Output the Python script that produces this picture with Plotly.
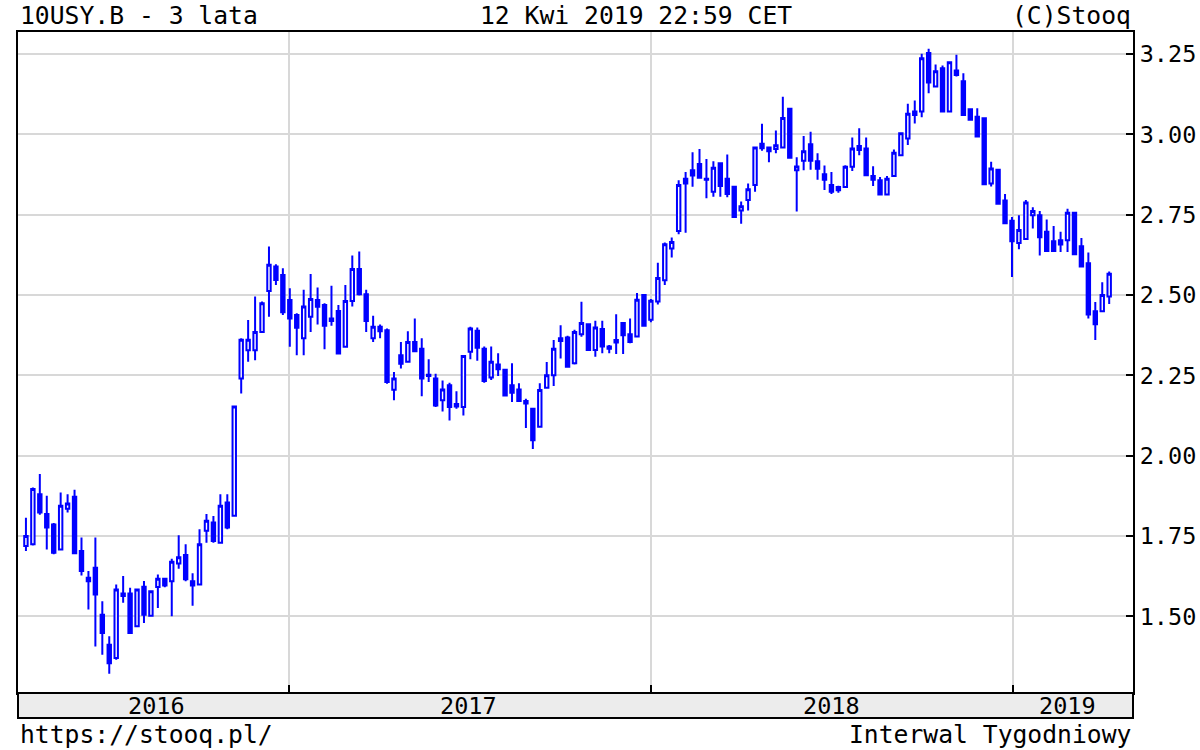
import pandas as pd
import plotly.graph_objects as go

# Weekly candles, 10USY.B (10-year US Treasury yield), weeks starting 2016-04-11
start_week = "2016-04-11"

opens = [1.719, 1.724, 1.880, 1.818, 1.786, 1.708, 1.835, 1.872, 1.703, 1.620,
         1.651, 1.505, 1.411, 1.370, 1.571, 1.571, 1.469, 1.592, 1.502, 1.591,
         1.617, 1.609, 1.664, 1.691, 1.609, 1.599, 1.766, 1.792, 1.729, 1.854,
         1.8125, 2.240, 2.328, 2.328, 2.385, 2.5125, 2.589, 2.5625, 2.484, 2.4375,
         2.365, 2.432, 2.484, 2.469, 2.427, 2.450, 2.339, 2.481, 2.581, 2.502,
         2.365, 2.401, 2.390, 2.205, 2.3125, 2.292, 2.354, 2.333, 2.252, 2.240,
         2.172, 2.219, 2.161, 2.151, 2.323, 2.389, 2.333, 2.243, 2.284, 2.267,
         2.219, 2.206, 2.170, 2.146, 2.090, 2.211, 2.250, 2.365, 2.368, 2.2875,
         2.378, 2.409, 2.329, 2.394, 2.340, 2.352, 2.4125, 2.378, 2.371, 2.500,
         2.423, 2.480, 2.546, 2.645, 2.699, 2.862, 2.888, 2.908, 2.862, 2.821,
         2.910, 2.862, 2.837, 2.763, 2.796, 2.842, 2.971, 2.959, 2.954, 2.959,
         3.080, 2.888, 2.918, 2.969, 2.916, 2.876, 2.842, 2.836, 2.836, 2.899,
         2.964, 2.956, 2.870, 2.857, 2.813, 2.870, 2.935, 2.987, 3.071, 3.071,
         3.253, 3.149, 3.206, 3.071, 3.199, 3.165, 3.078, 3.055, 3.050, 2.847,
         2.890, 2.794, 2.731, 2.662, 2.674, 2.748, 2.748, 2.697, 2.667, 2.670,
         2.670, 2.756, 2.652, 2.599, 2.449, 2.449, 2.495]

highs = [1.807, 1.901, 1.943, 1.875, 1.790, 1.885, 1.880, 1.894, 1.745, 1.641,
         1.745, 1.547, 1.438, 1.599, 1.625, 1.589, 1.583, 1.610, 1.578, 1.630,
         1.620, 1.679, 1.752, 1.724, 1.634, 1.771, 1.818, 1.812, 1.880, 1.880,
         2.153, 2.365, 2.422, 2.495, 2.480, 2.651, 2.596, 2.583, 2.521, 2.443,
         2.516, 2.565, 2.523, 2.474, 2.529, 2.469, 2.531, 2.623, 2.635, 2.516,
         2.435, 2.408, 2.396, 2.260, 2.354, 2.3875, 2.427, 2.365, 2.300, 2.255,
         2.234, 2.227, 2.200, 2.3125, 2.401, 2.399, 2.340, 2.340, 2.319, 2.269,
         2.2875, 2.225, 2.177, 2.146, 2.225, 2.2917, 2.360, 2.406, 2.373, 2.392,
         2.479, 2.409, 2.420, 2.420, 2.344, 2.440, 2.4125, 2.427, 2.506, 2.503,
         2.4875, 2.600, 2.663, 2.679, 2.857, 2.883, 2.944, 2.954, 2.923, 2.916,
         2.913, 2.937, 2.837, 2.791, 2.847, 2.959, 3.033, 2.961, 3.012, 3.117,
         3.080, 2.929, 2.995, 3.008, 2.941, 2.903, 2.883, 2.840, 2.904, 2.990,
         3.019, 2.990, 2.901, 2.867, 2.870, 2.953, 3.003, 3.095, 3.105, 3.251,
         3.266, 3.217, 3.214, 3.224, 3.248, 3.190, 3.078, 3.081, 3.053, 2.915,
         2.890, 2.814, 2.743, 2.748, 2.796, 2.773, 2.761, 2.735, 2.715, 2.697,
         2.768, 2.756, 2.677, 2.632, 2.478, 2.540, 2.573]

lows = [1.703, 1.720, 1.816, 1.708, 1.693, 1.705, 1.823, 1.696, 1.627, 1.521,
        1.406, 1.380, 1.321, 1.365, 1.542, 1.448, 1.469, 1.479, 1.502, 1.526,
        1.590, 1.500, 1.648, 1.609, 1.533, 1.599, 1.729, 1.729, 1.729, 1.771,
        1.8125, 2.193, 2.292, 2.297, 2.385, 2.432, 2.531, 2.4375, 2.339, 2.3125,
        2.3125, 2.385, 2.408, 2.331, 2.404, 2.318, 2.339, 2.464, 2.498, 2.385,
        2.354, 2.365, 2.224, 2.172, 2.271, 2.292, 2.325, 2.185, 2.229, 2.151,
        2.1375, 2.109, 2.146, 2.125, 2.300, 2.295, 2.227, 2.235, 2.248, 2.1875,
        2.167, 2.167, 2.086, 2.021, 2.090, 2.211, 2.217, 2.302, 2.274, 2.284,
        2.370, 2.329, 2.308, 2.319, 2.319, 2.316, 2.316, 2.350, 2.368, 2.402,
        2.415, 2.470, 2.531, 2.617, 2.689, 2.694, 2.837, 2.865, 2.801, 2.806,
        2.806, 2.804, 2.743, 2.722, 2.763, 2.821, 2.949, 2.913, 2.941, 2.959,
        2.927, 2.760, 2.888, 2.890, 2.859, 2.827, 2.814, 2.818, 2.834, 2.886,
        2.935, 2.870, 2.839, 2.813, 2.813, 2.868, 2.935, 2.967, 3.034, 3.053,
        3.128, 3.149, 3.071, 3.071, 3.180, 3.057, 3.045, 2.993, 2.845, 2.838,
        2.784, 2.723, 2.556, 2.642, 2.674, 2.707, 2.623, 2.637, 2.634, 2.634,
        2.634, 2.624, 2.589, 2.427, 2.360, 2.447, 2.472]

closes = [1.750, 1.896, 1.823, 1.776, 1.698, 1.844, 1.851, 1.696, 1.641, 1.609,
          1.568, 1.448, 1.354, 1.583, 1.563, 1.448, 1.583, 1.505, 1.578, 1.617,
          1.596, 1.670, 1.684, 1.615, 1.596, 1.724, 1.797, 1.734, 1.844, 1.776,
          2.153, 2.361, 2.361, 2.385, 2.474, 2.594, 2.547, 2.446, 2.427, 2.398,
          2.464, 2.4875, 2.4635, 2.404, 2.419, 2.318, 2.481, 2.581, 2.502, 2.419,
          2.401, 2.3875, 2.229, 2.240, 2.286, 2.354, 2.325, 2.240, 2.248, 2.156,
          2.206, 2.151, 2.153, 2.310, 2.396, 2.336, 2.232, 2.292, 2.269, 2.1875,
          2.196, 2.170, 2.1625, 2.048, 2.204, 2.250, 2.333, 2.357, 2.277, 2.385,
          2.4125, 2.329, 2.399, 2.340, 2.333, 2.360, 2.375, 2.354, 2.485, 2.404,
          2.482, 2.553, 2.658, 2.665, 2.842, 2.847, 2.872, 2.865, 2.859, 2.896,
          2.839, 2.814, 2.743, 2.776, 2.829, 2.959, 2.957, 2.947, 2.966, 3.051,
          2.927, 2.900, 2.947, 2.918, 2.893, 2.859, 2.821, 2.826, 2.899, 2.956,
          2.951, 2.873, 2.859, 2.813, 2.862, 2.943, 3.003, 3.064, 3.060, 3.237,
          3.161, 3.196, 3.071, 3.224, 3.185, 3.060, 3.045, 2.993, 2.845, 2.894,
          2.784, 2.723, 2.667, 2.702, 2.788, 2.761, 2.680, 2.637, 2.637, 2.657,
          2.756, 2.627, 2.589, 2.439, 2.409, 2.500, 2.566]

y_tick_values = [1.50, 1.75, 2.00, 2.25, 2.50, 2.75, 3.00, 3.25]
year_boundaries = ["2017-01-01", "2018-01-01", "2019-01-01"]
year_labels = ["2016", "2017", "2018", "2019"]
year_label_dates = ["2016-08-21", "2017-07-01", "2018-07-02", "2019-02-25"]

dates = pd.date_range(start_week, periods=len(opens), freq="7D")

BLUE = "#0000ff"
FONT = "DejaVu Sans Mono"
HEAD_SIZE = 24.7
TICK_SIZE = 23.5

fig = go.Figure(
    go.Candlestick(
        x=dates, open=opens, high=highs, low=lows, close=closes,
        increasing=dict(line=dict(color=BLUE, width=2), fillcolor="#ffffff"),
        decreasing=dict(line=dict(color=BLUE, width=2), fillcolor=BLUE),
        whiskerwidth=0,
        showlegend=False,
    )
)

PLOT_H = 661.0
fig.update_layout(
    width=1200, height=750,
    margin=dict(l=18, r=67, t=32, b=57, autoexpand=False),
    paper_bgcolor="white", plot_bgcolor="white",
    font=dict(family=FONT, size=HEAD_SIZE, color="black"),
    showlegend=False,
)

fig.update_xaxes(
    type="date",
    range=["2016-04-03", "2019-05-02"],
    rangeslider_visible=False,
    tickvals=year_boundaries,
    showticklabels=False,
    ticks="inside", ticklen=8, tickcolor="black", tickwidth=1.5,
    showgrid=True, gridcolor="#d8d8d8", gridwidth=1.5,
    showline=True, linecolor="black", linewidth=2, mirror=True,
    zeroline=False, automargin=False,
)

fig.update_yaxes(
    side="right",
    range=[1.2612, 3.3185],
    tickvals=y_tick_values,
    ticktext=[f"{v:.2f}" for v in y_tick_values],
    ticks="inside", ticklen=7, tickcolor="black", tickwidth=1.5,
    tickfont=dict(family=FONT, size=TICK_SIZE, color="black"),
    showgrid=True, gridcolor="#d8d8d8", gridwidth=1.5,
    showline=True, linecolor="black", linewidth=2, mirror=True,
    zeroline=False, automargin=False,
)

# Bottom band holding the year labels
fig.add_shape(
    type="rect", xref="paper", yref="paper",
    x0=0, x1=1, y0=-25 / PLOT_H, y1=0,
    fillcolor="#ececec", line=dict(color="black", width=2), layer="above",
)
for lab, d in zip(year_labels, year_label_dates):
    fig.add_annotation(
        x=d, xref="x", y=-12.5 / PLOT_H, yref="paper",
        text=lab, showarrow=False, xanchor="center", yanchor="middle",
        font=dict(family=FONT, size=TICK_SIZE, color="black"),
    )

# Header / footer texts
texts = [
    ("10USY.B - 3 lata", 0.0, "left", 1.0257),
    ("12 Kwi 2019 22:59 CET", (478 - 18) / 1115, "left", 1.0257),
    ("(C)Stooq", 1.0, "right", 1.0257),
    ("https://stooq.pl/", 0.0, "left", -0.0635),
    ("Interwal Tygodniowy", 1.0, "right", -0.0635),
]
for t, x, xa, y in texts:
    fig.add_annotation(
        x=x, xref="paper", y=y, yref="paper", text=t, showarrow=False,
        xanchor=xa, yanchor="middle",
        font=dict(family=FONT, size=HEAD_SIZE, color="black"),
    )

# remove the default 8px page margin so the figure sits at the window's corner
fig.write_html(
    "out.html",
    config={"displayModeBar": False},
    post_script="document.body.style.margin='0';",
)
